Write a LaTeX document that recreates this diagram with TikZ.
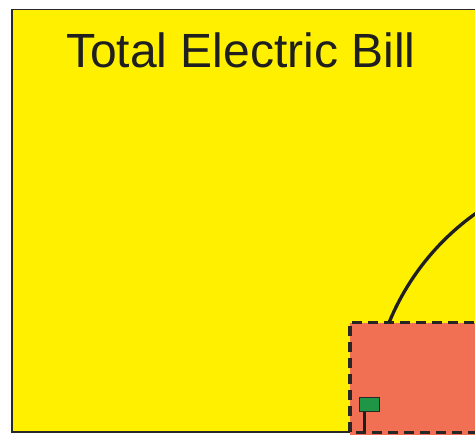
\documentclass[tikz,border=0pt]{standalone}
\usepackage{fontspec}
\setmainfont{Liberation Sans}
\definecolor{billyellow}{RGB}{255,240,0}
\definecolor{salmonred}{RGB}{241,112,84}
\definecolor{meterGreen}{RGB}{30,150,70}
\definecolor{edgegray}{RGB}{40,40,40}
\begin{document}
\begin{tikzpicture}[x=1pt,y=1pt,
  panel/.style={fill=billyellow,draw=edgegray,line width=1.5pt},
  zone/.style={fill=salmonred,draw=black!85,line width=3.6pt,dash pattern=on 10pt off 6pt},
  meterbox/.style={fill=meterGreen,draw=edgegray,line width=1.3pt,minimum width=20pt,minimum height=14pt,inner sep=0pt},
  wire/.style={draw=black!88,line width=3.3pt},
  title/.style={font=\fontsize{48}{57}\selectfont,text=black!88,inner sep=0pt,anchor=base west}]
\useasboundingbox (0,0) rectangle (475,435);
\fill[white] (0,0) rectangle (475,435);
\begin{scope}
\clip (0,0) rectangle (475,435);
\draw[panel] (12,3) rectangle (520,425.5);
\node[title] (ttl) at (66,367) {Total Electric Bill};
\fill[salmonred] (350,2.5) rectangle (520,0);
\draw[zone] (350,2.5) rectangle (520,112.3);
\coordinate (arcstart) at (389,112.3);
\draw[wire] (arcstart) arc[start angle=157.7,end angle=115,radius=250.7];
\node[meterbox] (meter) at (369.6,30.3) {};
\coordinate (ground) at (364.5,2.5);
\draw[wire] (meter.south -| ground) -- (ground);
\end{scope}
\end{tikzpicture}
\end{document}
